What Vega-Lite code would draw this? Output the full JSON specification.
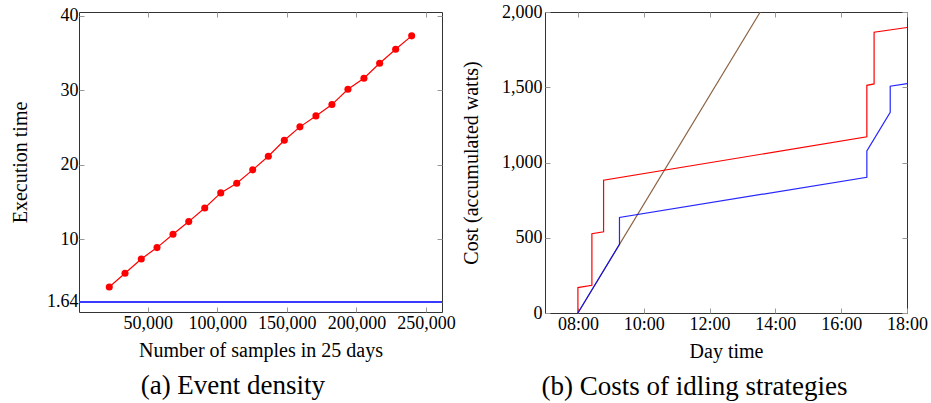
{
  "$schema": "https://vega.github.io/schema/vega-lite/v6.json",
  "padding": {"left": 10, "top": 2, "right": 5, "bottom": 5},
  "background": "white",
  "config": {
    "font": "Liberation Serif",
    "view": {"stroke": "#333333", "strokeWidth": 1},
    "axis": {
      "grid": false, "domain": false, "tickColor": "#999999", "tickSize": -5, "tickWidth": 1,
      "labelFlush": false, "labelOverlap": false,
      "labelFontSize": 18, "labelColor": "#000000", "labelFont": "Liberation Serif",
      "titleFontSize": 20, "titleFontWeight": "normal", "titleColor": "#000000", "titleFont": "Liberation Serif"
    },
    "title": {"fontSize": 27, "fontWeight": "normal", "font": "Liberation Serif", "color": "#000000"}
  },
  "spacing": 5,
  "hconcat": [
    {
      "width": 363,
      "height": 300,
      "title": {"text": "(a) Event density", "orient": "bottom", "frame": "bounds", "anchor": "middle", "offset": 13},
      "data": {"values": [
        {"samples": 22400, "time": 3.61},
        {"samples": 33700, "time": 5.44},
        {"samples": 45400, "time": 7.37},
        {"samples": 56700, "time": 8.89},
        {"samples": 68200, "time": 10.67},
        {"samples": 79500, "time": 12.38},
        {"samples": 91000, "time": 14.21},
        {"samples": 102500, "time": 16.23},
        {"samples": 114000, "time": 17.52},
        {"samples": 125500, "time": 19.32},
        {"samples": 136700, "time": 21.14},
        {"samples": 148200, "time": 23.29},
        {"samples": 159400, "time": 25.09},
        {"samples": 170900, "time": 26.56},
        {"samples": 182400, "time": 28.08},
        {"samples": 193900, "time": 30.13},
        {"samples": 205400, "time": 31.61},
        {"samples": 216700, "time": 33.62},
        {"samples": 228200, "time": 35.5},
        {"samples": 239700, "time": 37.3}
      ]},
      "layer": [
        {
          "mark": {"type": "line", "color": "#ff0000", "strokeWidth": 1.2},
          "encoding": {
            "x": {"field": "samples", "type": "quantitative",
              "scale": {"domain": [640, 261500], "nice": false, "zero": false},
              "axis": {"values": [50000, 100000, 150000, 200000, 250000], "labelExpr": "format(datum.value, ',d')", "title": "Number of samples in 25 days", "labelPadding": 7, "titlePadding": 8}},
            "y": {"field": "time", "type": "quantitative",
              "scale": {"domain": [0.25, 40.5], "nice": false, "zero": false},
              "axis": {"values": [1.64, 10, 20, 30, 40], "labelExpr": "datum.value < 2 ? '1.64' : format(datum.value, 'd')", "title": "Execution time", "labelPadding": 6, "titlePadding": 16}}
          }
        },
        {
          "mark": {"type": "point", "filled": true, "color": "#ff0000", "size": 50, "opacity": 1},
          "encoding": {
            "x": {"field": "samples", "type": "quantitative",
              "axis": {"orient": "top", "values": [50000, 100000, 150000, 200000, 250000], "labels": false, "title": null}},
            "y": {"field": "time", "type": "quantitative",
              "axis": {"orient": "right", "values": [1.64, 10, 20, 30, 40], "labels": false, "title": null}}
          }
        },
        {
          "mark": {"type": "rule", "color": "#3a3aff", "strokeWidth": 1.5},
          "encoding": {"y": {"datum": 1.64, "type": "quantitative", "axis": null}}
        }
      ],
      "resolve": {"axis": {"x": "independent", "y": "independent"}}
    },
    {
      "width": 362,
      "height": 301,
      "title": {"text": "(b) Costs of idling strategies", "orient": "bottom", "frame": "bounds", "anchor": "middle", "offset": 13},
      "data": {"values": [
        {"strategy": "brown", "i": 0, "hour": 8, "cost": 0},
        {"strategy": "brown", "i": 1, "hour": 13.54, "cost": 2000},
        {"strategy": "red", "i": 0, "hour": 8, "cost": 0},
        {"strategy": "red", "i": 1, "hour": 8, "cost": 169},
        {"strategy": "red", "i": 2, "hour": 8.425, "cost": 184},
        {"strategy": "red", "i": 3, "hour": 8.425, "cost": 527},
        {"strategy": "red", "i": 4, "hour": 8.78, "cost": 540},
        {"strategy": "red", "i": 5, "hour": 8.78, "cost": 882},
        {"strategy": "red", "i": 6, "hour": 16.78, "cost": 1171},
        {"strategy": "red", "i": 7, "hour": 16.78, "cost": 1513},
        {"strategy": "red", "i": 8, "hour": 17.0, "cost": 1522},
        {"strategy": "red", "i": 9, "hour": 17.0, "cost": 1866},
        {"strategy": "red", "i": 10, "hour": 18, "cost": 1897},
        {"strategy": "blue", "i": 0, "hour": 8, "cost": 0},
        {"strategy": "blue", "i": 1, "hour": 9.263, "cost": 456},
        {"strategy": "blue", "i": 2, "hour": 9.263, "cost": 635},
        {"strategy": "blue", "i": 3, "hour": 16.78, "cost": 902},
        {"strategy": "blue", "i": 4, "hour": 16.78, "cost": 1077},
        {"strategy": "blue", "i": 5, "hour": 17.49, "cost": 1333},
        {"strategy": "blue", "i": 6, "hour": 17.49, "cost": 1507},
        {"strategy": "blue", "i": 7, "hour": 18, "cost": 1524}
      ]},
      "layer": [
        {
          "transform": [{"filter": "datum.strategy == 'brown'"}],
          "mark": {"type": "line", "color": "#8a6040", "strokeWidth": 1.2},
          "encoding": {
            "x": {"field": "hour", "type": "quantitative",
              "scale": {"domain": [7, 18], "nice": false, "zero": false},
              "axis": {"values": [8, 10, 12, 14, 16, 18], "labelExpr": "(datum.value < 10 ? '0' : '') + datum.value + ':00'", "title": "Day time", "labelPadding": 7, "titlePadding": 8}},
            "y": {"field": "cost", "type": "quantitative",
              "scale": {"domain": [0, 2000], "nice": false},
              "axis": {"values": [0, 500, 1000, 1500, 2000], "labelExpr": "format(datum.value, ',d')", "title": "Cost (accumulated watts)", "labelPadding": 8, "titlePadding": 20}},
            "order": {"field": "i", "type": "quantitative"}
          }
        },
        {
          "transform": [{"filter": "datum.strategy == 'red'"}],
          "mark": {"type": "line", "color": "#ff0000", "strokeWidth": 1.2},
          "encoding": {
            "x": {"field": "hour", "type": "quantitative",
              "axis": {"orient": "top", "values": [8, 10, 12, 14, 16, 18], "labels": false, "title": null}},
            "y": {"field": "cost", "type": "quantitative",
              "axis": {"orient": "right", "values": [0, 500, 1000, 1500, 2000], "labels": false, "title": null}},
            "order": {"field": "i", "type": "quantitative"}
          }
        },
        {
          "transform": [{"filter": "datum.strategy == 'blue'"}],
          "mark": {"type": "line", "color": "#0000ff", "strokeWidth": 1.2, "opacity": 0.85},
          "encoding": {
            "x": {"field": "hour", "type": "quantitative", "axis": null},
            "y": {"field": "cost", "type": "quantitative", "axis": null},
            "order": {"field": "i", "type": "quantitative"}
          }
        }
      ],
      "resolve": {"axis": {"x": "independent", "y": "independent"}}
    }
  ]
}
